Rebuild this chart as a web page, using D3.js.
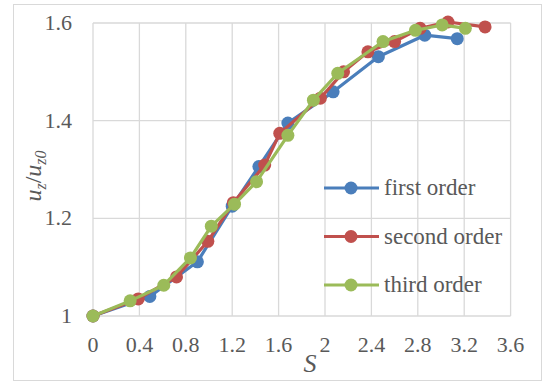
<!DOCTYPE html>
<html>
<head>
<meta charset="utf-8">
<script src="https://cdn.jsdelivr.net/npm/d3@7"></script>
<style>
  body { margin: 0; background: #fff; }
</style>
</head>
<body>
<div id="chart"></div>
<script>
// values
var sFirst  = [0, 0.49, 0.9, 1.2, 1.43, 1.68, 2.07, 2.46, 2.86, 3.14];
var uFirst  = [1, 1.04, 1.111, 1.225, 1.306, 1.395, 1.459, 1.531, 1.575, 1.568];
var sSecond = [0, 0.39, 0.72, 0.99, 1.21, 1.48, 1.61, 1.96, 2.16, 2.37, 2.6, 2.82, 3.06, 3.38];
var uSecond = [1, 1.035, 1.08, 1.153, 1.232, 1.309, 1.374, 1.446, 1.5, 1.541, 1.562, 1.589, 1.602, 1.592];
var sThird  = [0, 0.32, 0.61, 0.84, 1.02, 1.22, 1.41, 1.68, 1.9, 2.11, 2.5, 2.78, 3.01, 3.21];
var uThird  = [1, 1.031, 1.063, 1.119, 1.184, 1.229, 1.275, 1.37, 1.442, 1.497, 1.562, 1.585, 1.596, 1.589];
var seriesNames = ['first order', 'second order', 'third order'];
var seriesColors = ['#4a7ebb', '#c0504d', '#9bbb59'];
var xTicks = [0, 0.4, 0.8, 1.2, 1.6, 2, 2.4, 2.8, 3.2, 3.6];
var yTicks = [1, 1.2, 1.4, 1.6];

var FONT = 'Liberation Serif';

var series = [
  { name: seriesNames[0], color: seriesColors[0], pts: sFirst.map(function(s, i) { return [s, uFirst[i]]; }) },
  { name: seriesNames[1], color: seriesColors[1], pts: sSecond.map(function(s, i) { return [s, uSecond[i]]; }) },
  { name: seriesNames[2], color: seriesColors[2], pts: sThird.map(function(s, i) { return [s, uThird[i]]; }) }
];

var W = 544, H = 382;
var svg = d3.select('#chart').append('svg')
  .attr('width', W)
  .attr('height', H);

// chart area border
svg.append('rect')
  .attr('x', 13.5).attr('y', 4.5)
  .attr('width', 528).attr('height', 376)
  .attr('fill', '#fff')
  .attr('stroke', '#d9d9d9');

var x = d3.scaleLinear().domain([0, 3.6]).range([93, 510.6]);
var y = d3.scaleLinear().domain([1, 1.6]).range([316, 23]);

// grid
svg.append('g').selectAll('line')
  .data(xTicks)
  .enter().append('line')
  .attr('x1', function(d) { return x(d); })
  .attr('x2', function(d) { return x(d); })
  .attr('y1', y(1)).attr('y2', y(1.6))
  .attr('stroke', '#d9d9d9').attr('stroke-width', 1.3);

svg.append('g').selectAll('line')
  .data(yTicks)
  .enter().append('line')
  .attr('x1', x(0)).attr('x2', x(3.6))
  .attr('y1', function(d) { return y(d); })
  .attr('y2', function(d) { return y(d); })
  .attr('stroke', '#d9d9d9').attr('stroke-width', 1.3);

// tick labels
svg.append('g').selectAll('text')
  .data(xTicks)
  .enter().append('text')
  .attr('x', function(d) { return x(d); })
  .attr('y', 352)
  .attr('text-anchor', 'middle')
  .style('font-family', FONT)
  .style('font-size', '22px')
  .attr('fill', '#595959')
  .text(function(d) { return d3.format('')(d); });

svg.append('g').selectAll('text')
  .data(yTicks)
  .enter().append('text')
  .attr('x', 72)
  .attr('y', function(d) { return y(d) + 7; })
  .attr('text-anchor', 'end')
  .style('font-family', FONT)
  .style('font-size', '22px')
  .attr('fill', '#595959')
  .text(function(d) { return d3.format('')(d); });

// lines + markers
var line = d3.line()
  .x(function(d) { return x(d[0]); })
  .y(function(d) { return y(d[1]); });

series.forEach(function(sr) {
  var g = svg.append('g');
  g.append('path')
    .datum(sr.pts)
    .attr('d', line)
    .attr('fill', 'none')
    .attr('stroke', sr.color)
    .attr('stroke-width', 3.2)
    .attr('stroke-linejoin', 'round');
  g.selectAll('circle')
    .data(sr.pts)
    .enter().append('circle')
    .attr('cx', function(d) { return x(d[0]); })
    .attr('cy', function(d) { return y(d[1]); })
    .attr('r', 6.5)
    .attr('fill', sr.color);
});

// legend
var legend = svg.append('g');
series.forEach(function(sr, i) {
  var ly = 188 + i * 48.5;
  legend.append('line')
    .attr('x1', 324).attr('x2', 379)
    .attr('y1', ly).attr('y2', ly)
    .attr('stroke', sr.color).attr('stroke-width', 3.2);
  legend.append('circle')
    .attr('cx', 351).attr('cy', ly).attr('r', 6.5)
    .attr('fill', sr.color);
  legend.append('text')
    .attr('x', 384).attr('y', ly + 7)
    .style('font-family', FONT)
    .style('font-size', '23px')
    .attr('fill', '#595959')
    .text(sr.name);
});

// axis titles
svg.append('text')
  .attr('x', 310).attr('y', 372)
  .attr('text-anchor', 'middle')
  .style('font-family', FONT)
  .style('font-size', '26px')
  .style('font-style', 'italic')
  .attr('fill', '#595959')
  .text('S');

var yt = svg.append('text')
  .attr('transform', 'translate(41,176) rotate(-90)')
  .attr('text-anchor', 'middle')
  .style('font-family', FONT)
  .style('font-size', '24px')
  .style('font-style', 'italic')
  .attr('fill', '#595959');
yt.append('tspan').text('u');
yt.append('tspan').style('font-size', '16px').attr('dy', 5).text('z');
yt.append('tspan').attr('dy', -5).style('font-style', 'normal').text('/');
yt.append('tspan').text('u');
yt.append('tspan').style('font-size', '16px').attr('dy', 5).text('z0');
</script>
</body>
</html>
